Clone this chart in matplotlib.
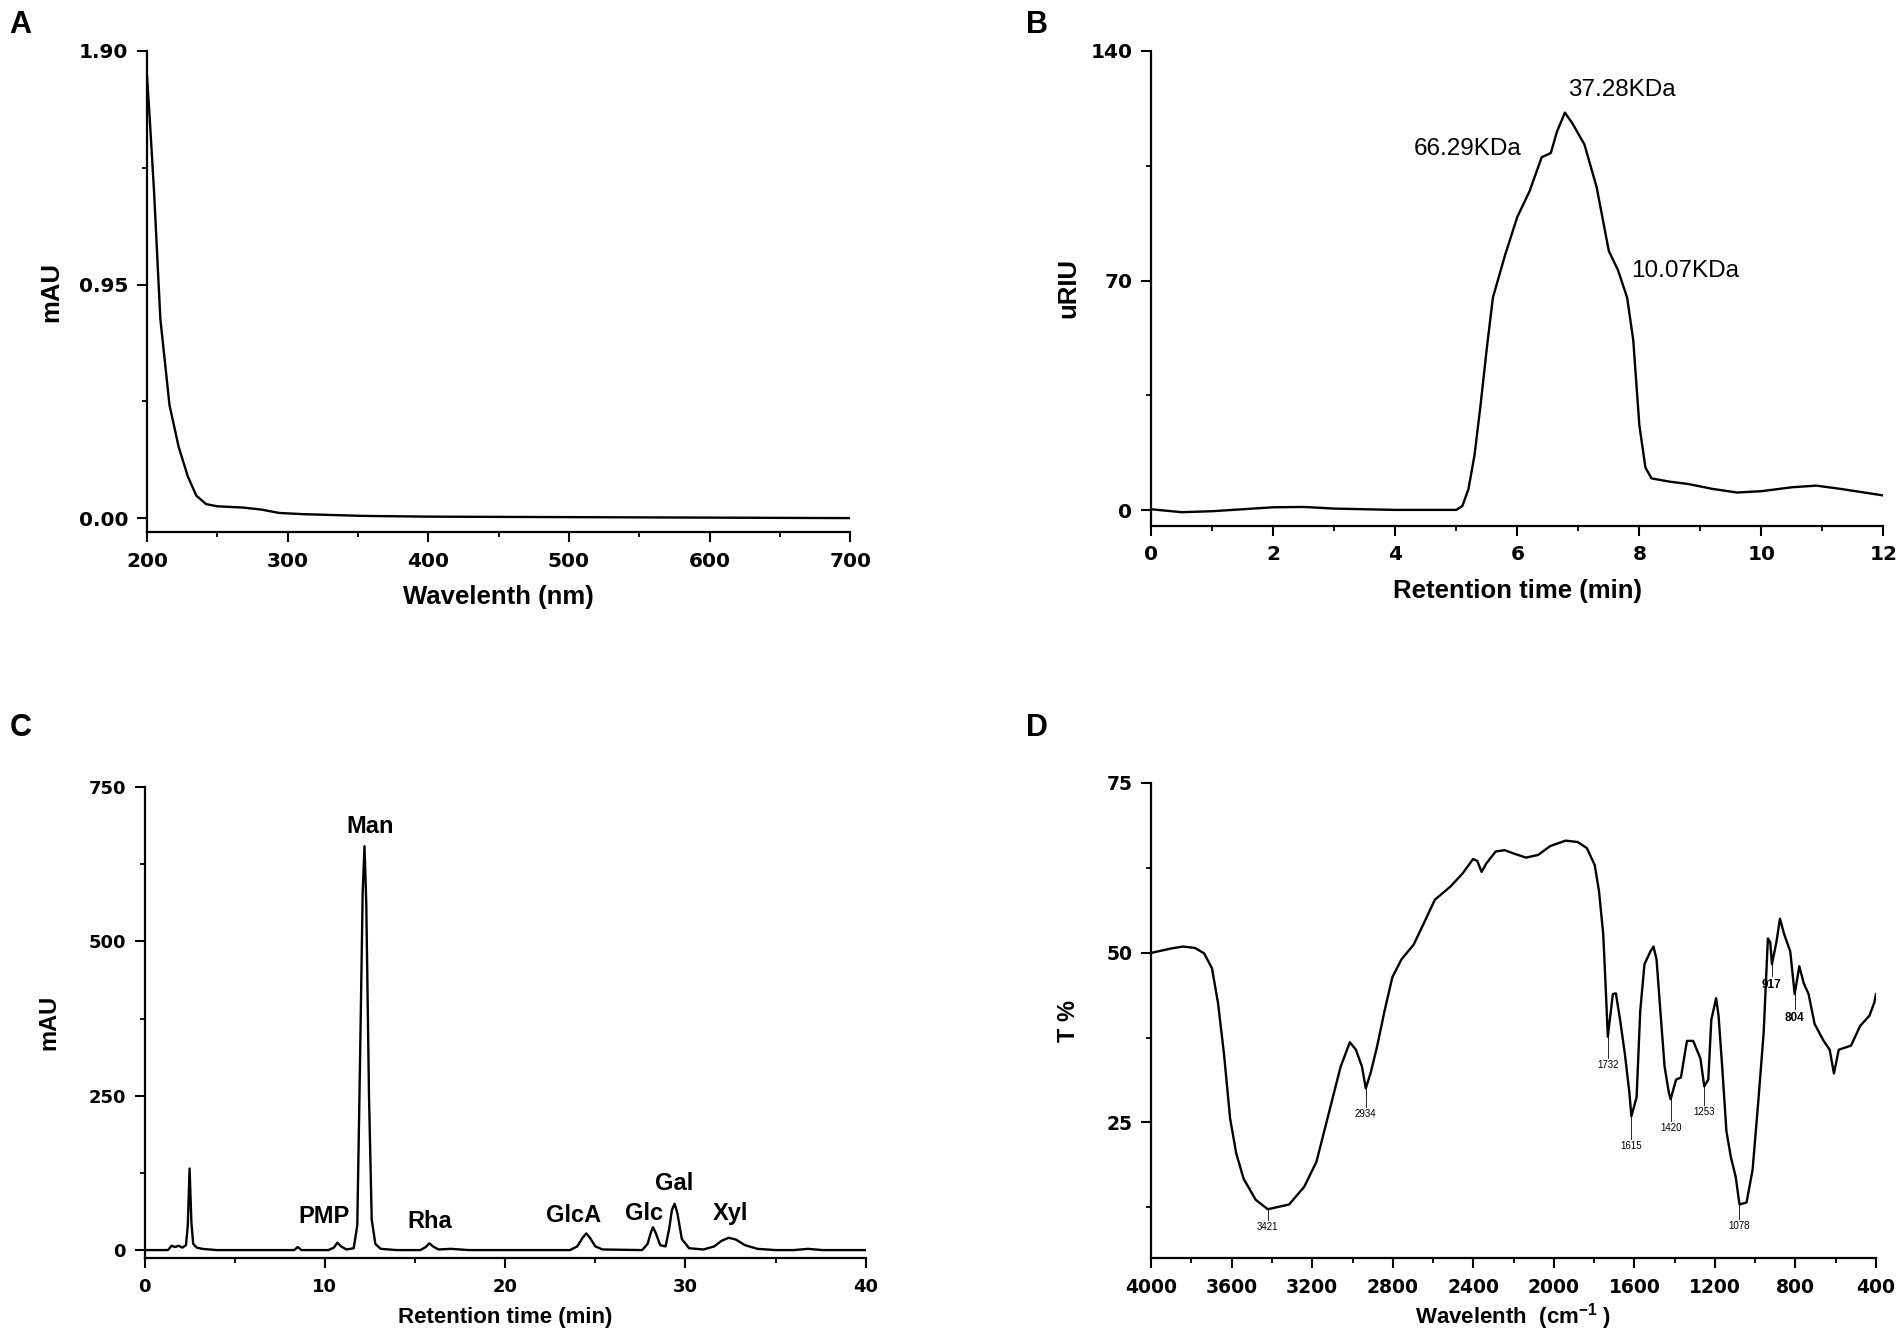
import numpy as np
import matplotlib
matplotlib.use("Agg")
import matplotlib.pyplot as plt
from matplotlib.ticker import MultipleLocator

plt.rcParams['font.family'] = ['Liberation Sans', 'DejaVu Sans']
plt.rcParams['mathtext.fontset'] = 'custom'
plt.rcParams['mathtext.rm'] = 'Liberation Sans'
plt.rcParams['mathtext.bf'] = 'Liberation Sans:bold'

# ---- A: UV spectrum
uv_nm = [200, 202, 205, 209.5, 216, 222.5, 229, 235, 242, 250, 268, 281, 294, 311, 354, 400, 500, 600, 700]
uv_abs = [1.80, 1.62, 1.33, 0.81, 0.46, 0.29, 0.17, 0.092, 0.057, 0.048, 0.043, 0.035, 0.021, 0.016,
          0.009, 0.006, 0.004, 0.002, 0.0]

# ---- B: GPC
gpc_t = [0, 0.5, 1.0, 2.0, 2.5, 3.0, 4.0, 5.0, 5.1, 5.2, 5.3, 5.4, 5.5, 5.6, 5.8, 6.0, 6.2, 6.4,
         6.55, 6.65, 6.78, 6.9, 7.1, 7.3, 7.5, 7.65, 7.8, 7.9, 8.0, 8.1, 8.2, 8.5, 8.8, 9.2, 9.6,
         10.0, 10.5, 10.9, 11.3, 12.0]
gpc_riu = [0.3, -0.6, -0.3, 0.9, 1.0, 0.5, 0.1, 0.1, 1.3, 6.5, 16.9, 32.4, 49.3, 64.8, 77.8, 89.4,
           97.2, 107.6, 108.9, 115.4, 121.2, 118.0, 111.5, 98.5, 79.0, 73.2, 64.8, 51.9, 25.9, 13.0,
           9.7, 8.7, 8.0, 6.5, 5.4, 5.8, 7.0, 7.5, 6.5, 4.5]
gpc_labels = ["66.29KDa", "37.28KDa", "10.07KDa"]
gpc_label_x = [4.3, 6.84, 7.87]
gpc_label_y = [110, 128, 73]

# ---- C: monosaccharide HPLC
hplc_t = [0, 1.3, 1.5, 1.7, 1.9, 2.1, 2.3, 2.4, 2.5, 2.6, 2.7, 2.9, 3.2, 4, 6, 8.3, 8.5, 8.7,
          10.2, 10.5, 10.7, 10.9, 11.2, 11.6, 11.8, 11.95, 12.1, 12.2, 12.3, 12.45, 12.6, 12.8, 13.1,
          14, 15.3, 15.6, 15.8, 16.0, 16.3, 17, 18, 23.6, 24.0, 24.3, 24.5, 24.7, 25.0, 25.4,
          27.6, 27.9, 28.1, 28.2, 28.35, 28.6, 28.9, 29.1, 29.25, 29.4, 29.55, 29.8, 30.2,
          31.0, 31.6, 32.0, 32.4, 32.8, 33.3, 34, 35, 36, 36.8, 37.6, 40]
hplc_mau = [0, 0, 7, 5, 7, 4, 8, 40, 132, 45, 10, 4, 2, 0, 0, 0, 5, 0,
            0, 4, 12, 6, 1, 3, 40, 300, 580, 654, 560, 250, 50, 10, 2,
            0, 0, 5, 11, 6, 1, 2, 0, 0, 6, 20, 27, 20, 6, 1,
            0, 10, 30, 37, 28, 8, 6, 35, 65, 75, 60, 18, 3,
            1, 6, 15, 20, 17, 8, 2, 0, 0, 2, 0, 0]
sugars = ["PMP", "Man", "Rha", "GlcA", "Glc", "Gal", "Xyl"]
sugar_x = [9.95, 12.5, 15.8, 23.8, 27.7, 29.4, 32.5]
sugar_y = [36, 668, 28, 38, 41, 90, 40]

# ---- D: FTIR
ir_wn = [3994, 3903, 3843, 3783, 3737, 3698, 3668, 3638, 3608, 3578, 3541, 3481, 3421, 3315, 3240,
         3179, 3119, 3059, 3013, 2983, 2953, 2934, 2908, 2877, 2841, 2802, 2757, 2696, 2651, 2591,
         2515, 2455, 2401, 2380, 2359, 2334, 2289, 2244, 2199, 2138, 2078, 2018, 1942, 1882, 1836,
         1797, 1776, 1755, 1743, 1732, 1707, 1692, 1671, 1647, 1625, 1615, 1589, 1571, 1550, 1520,
         1505, 1490, 1471, 1450, 1429, 1420, 1393, 1369, 1339, 1308, 1272, 1253, 1233, 1218, 1194,
         1182, 1164, 1143, 1121, 1097, 1078, 1043, 1013, 983, 958, 937, 925, 917, 895, 877, 856,
         826, 804, 781, 759, 735, 705, 660, 630, 609, 585, 555, 524, 479, 433, 409, 400]
ir_t = [50.0, 50.6, 50.9, 50.7, 49.9, 47.7, 42.6, 35.0, 25.6, 20.5, 16.7, 13.6, 12.2, 12.9, 15.5,
        19.2, 26.2, 33.2, 36.8, 35.7, 33.2, 30.0, 32.5, 36.3, 41.4, 46.4, 49.0, 51.2, 54.0, 57.8,
        59.7, 61.6, 63.8, 63.5, 61.9, 63.2, 64.9, 65.1, 64.6, 64.0, 64.4, 65.7, 66.5, 66.3, 65.4,
        62.9, 59.1, 52.8, 45.2, 37.6, 43.9, 44.0, 40.1, 35.0, 29.4, 25.9, 28.7, 41.4, 48.3, 50.2,
        50.9, 49.0, 41.4, 33.2, 29.4, 28.4, 31.3, 31.6, 37.0, 37.0, 34.4, 30.3, 31.3, 40.1, 43.3,
        40.7, 33.2, 23.7, 19.9, 17.0, 12.9, 13.2, 18.0, 28.7, 38.2, 52.1, 51.5, 48.3, 51.5, 55.0, 52.7,
        50.2, 43.9, 48.0, 45.5, 43.9, 39.5, 37.0, 35.7, 32.2, 35.7, 36.0, 36.3, 39.2, 40.7, 42.6, 43.9]
ir_peaks = [3421, 2934, 1732, 1615, 1420, 1253, 1078, 917, 804]
ir_peak_t = [12.2, 30.0, 37.6, 25.9, 28.4, 30.3, 12.9, 48.3, 43.9]
ir_label_t = [9.6, 26.2, 33.5, 21.5, 24.2, 26.5, 9.8, 45.2, 40.4]

fig = plt.figure(figsize=(19.04, 13.37), dpi=100)


def style(ax, tsize, xpad, ypad):
    for s in ['top', 'right']:
        ax.spines[s].set_visible(False)
    for s in ['left', 'bottom']:
        ax.spines[s].set_linewidth(1.6)
    ax.tick_params(which='major', direction='out', length=7, width=1.5)
    ax.tick_params(which='minor', direction='out', length=3.8, width=1.3)
    ax.tick_params(axis='x', which='major', pad=xpad)
    ax.tick_params(axis='y', which='major', pad=ypad)
    for lbl in ax.get_xticklabels() + ax.get_yticklabels():
        lbl.set_fontsize(tsize)
        lbl.set_fontweight('bold')
        lbl.set_fontfamily('DejaVu Sans')


# A
axA = fig.add_axes([0.0772, 0.602, 0.3693, 0.3599])
axA.plot(uv_nm, uv_abs, color='black', lw=1.7)
axA.set_xlim(200, 700)
axA.set_ylim(-0.057, 1.90)
axA.set_xticks([200, 300, 400, 500, 600, 700])
axA.set_yticks([0.0, 0.95, 1.90])
axA.set_yticklabels(['0.00', '0.95', '1.90'])
axA.xaxis.set_minor_locator(MultipleLocator(50))
axA.yaxis.set_minor_locator(MultipleLocator(0.475))
style(axA, 14.5, 7, 6.5)
axA.set_xlabel('Wavelenth (nm)', fontsize=18.5, fontweight='bold', labelpad=10.5)
axA.set_ylabel('mAU', fontsize=18.5, fontweight='bold')
axA.yaxis.set_label_coords(-0.119, 0.5)

# B
axB = fig.add_axes([0.6046, 0.6066, 0.3846, 0.3553])
axB.plot(gpc_t, gpc_riu, color='black', lw=1.7)
axB.set_xlim(0, 12)
axB.set_ylim(-4.8, 140)
axB.set_xticks(range(0, 13, 2))
axB.set_yticks([0, 70, 140])
axB.xaxis.set_minor_locator(MultipleLocator(1))
axB.yaxis.set_minor_locator(MultipleLocator(35))
style(axB, 14.5, 7, 6.5)
for name, x, y in zip(gpc_labels, gpc_label_x, gpc_label_y):
    axB.text(x, y, name, fontsize=17.5, ha='left', va='center')
axB.set_xlabel('Retention time (min)', fontsize=18.5, fontweight='bold', labelpad=10.5)
axB.set_ylabel('uRIU', fontsize=18.5, fontweight='bold')
axB.yaxis.set_label_coords(-0.096, 0.5)

# C
axC = fig.add_axes([0.0759, 0.059, 0.3788, 0.3524])
axC.plot(hplc_t, hplc_mau, color='black', lw=1.7)
axC.set_xlim(0, 40)
axC.set_ylim(-13, 750)
axC.set_xticks([0, 10, 20, 30, 40])
axC.set_yticks([0, 250, 500, 750])
axC.xaxis.set_minor_locator(MultipleLocator(5))
axC.yaxis.set_minor_locator(MultipleLocator(125))
style(axC, 13, 7.5, 6.5)
for name, x, y in zip(sugars, sugar_x, sugar_y):
    axC.text(x, y, name, ha='center', va='bottom', fontsize=17, fontweight='bold')
axC.set_xlabel('Retention time (min)', fontsize=16, fontweight='bold', labelpad=8)
axC.set_ylabel('mAU', fontsize=17, fontweight='bold')
axC.yaxis.set_label_coords(-0.117, 0.5)

# D
axD = fig.add_axes([0.6046, 0.059, 0.3807, 0.3554])
axD.plot(ir_wn, ir_t, color='black', lw=1.7)
axD.set_xlim(4000, 400)
axD.set_ylim(5, 75)
axD.set_xticks(range(4000, 399, -400))
axD.set_yticks([25, 50, 75])
axD.xaxis.set_minor_locator(MultipleLocator(200))
axD.yaxis.set_minor_locator(MultipleLocator(12.5))
style(axD, 13.5, 7.5, 6.5)
for wn, tp, tl in zip(ir_peaks, ir_peak_t, ir_label_t):
    big = wn in (917, 804)
    axD.plot([wn, wn], [tp, tl + (1.3 if big else 1.0)], color='black', lw=0.6)
    axD.text(wn, tl, str(wn), fontsize=8.5 if big else 7, fontweight='bold' if big else 'normal',
             ha='center', va='center')
axD.set_xlabel('Wavelenth  (cm$^{\\mathbf{-1}}$ )', fontsize=16, fontweight='bold', labelpad=3)
axD.set_ylabel('T %', fontsize=17, fontweight='bold')
axD.yaxis.set_label_coords(-0.098, 0.5)

# panel letters
for letter, x, y in [('A', 0.005, 0.981), ('B', 0.539, 0.981), ('C', 0.005, 0.4555), ('D', 0.539, 0.4555)]:
    fig.text(x, y, letter, fontsize=22, fontweight='bold', ha='left', va='center')

fig.savefig('out.png', dpi=100, facecolor='white')
